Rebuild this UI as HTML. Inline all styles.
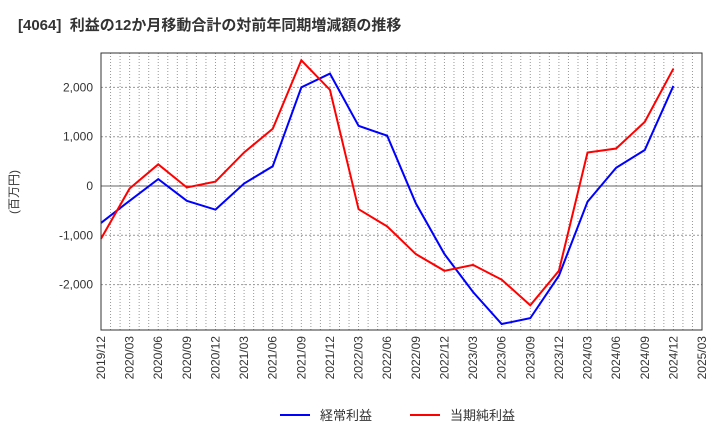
<!DOCTYPE html>
<html><head><meta charset="utf-8"><style>
body{margin:0;background:#fff;font-family:"Liberation Sans","Noto Sans CJK JP",sans-serif;}
</style></head><body>
<svg id="c" width="720" height="440" xmlns="http://www.w3.org/2000/svg">
<text x="18" y="30" xml:space="preserve" font-size="15" font-weight="bold" fill="#333" font-family="Liberation Sans, Noto Sans CJK JP, sans-serif">[4064]  利益の12か月移動合計の対前年同期増減額の推移</text>
<text transform="translate(18,192) rotate(-90)" text-anchor="middle" font-size="12" fill="#333" font-family="Liberation Sans, Noto Sans CJK JP, sans-serif">(百万円)</text>
<g id="grid"></g><g id="series"></g><g id="axes"></g>
<g>
<line x1="280" y1="415" x2="310" y2="415" stroke="#0000ff" stroke-width="2"/>
<text x="320" y="420" font-size="13" fill="#333" font-family="Liberation Sans, Noto Sans CJK JP, sans-serif">経常利益</text>
<line x1="410" y1="415" x2="440" y2="415" stroke="#ff0000" stroke-width="2"/>
<text x="450" y="420" font-size="13" fill="#333" font-family="Liberation Sans, Noto Sans CJK JP, sans-serif">当期純利益</text>
</g>
</svg>
<script>
const categories=["2019/12","2020/03","2020/06","2020/09","2020/12","2021/03","2021/06","2021/09","2021/12","2022/03","2022/06","2022/09","2022/12","2023/03","2023/06","2023/09","2023/12","2024/03","2024/06","2024/09","2024/12","2025/03"];
const ordinaryProfit=[-750,-300,140,-300,-480,50,400,2000,2280,1220,1020,-350,-1380,-2150,-2800,-2680,-1820,-320,370,730,2030];
const netProfit=[-1070,-50,440,-30,90,680,1160,2550,1950,-470,-820,-1380,-1720,-1600,-1900,-2420,-1720,680,760,1300,2380];
const yTicks=[-2000,-1000,0,1000,2000];
const NS="http://www.w3.org/2000/svg";
const L=101,R=702,T=53,B=330;
const x=i=>L+(R-L)*i/(categories.length-1);
const y=v=>186-v*0.0493;
function mk(tag,a,parent){const e=document.createElementNS(NS,tag);for(const k in a)e.setAttribute(k,a[k]);parent.appendChild(e);return e;}
const g=document.getElementById('grid'),s=document.getElementById('series'),ax=document.getElementById('axes');
for(let m=1;m<(categories.length-1)*3;m++){const xx=L+(R-L)*m/((categories.length-1)*3);
const l=mk('line',{x1:xx,x2:xx,y1:T,y2:B,stroke:'#999','stroke-dasharray':'1,2','stroke-width':1},g);

}
yTicks.forEach(v=>{const l=mk('line',{x1:L,x2:R,y1:y(v),y2:y(v),stroke:v===0?'#666':'#999','stroke-dasharray':v===0?'':'2,2','stroke-width':1},g);


const t=mk('text',{x:L-8,y:y(v)+4,'text-anchor':'end','font-size':12,fill:'#333'},ax);t.textContent=v.toLocaleString('en-US');

});
const fr=mk('rect',{x:L,y:T,width:R-L,height:B-T,fill:'none',stroke:'#333','stroke-width':1},ax);


categories.forEach((c,i)=>{const t=mk('text',{transform:`translate(${x(i)+4},${B+6}) rotate(-90)`,'text-anchor':'end','font-size':12,fill:'#333'},ax);t.textContent=c;

});
[[ordinaryProfit,'#0000ff','ordinary-profit-line'],[netProfit,'#ff0000','net-profit-line']].forEach(([d,col,n])=>{
const p=mk('polyline',{points:d.map((v,i)=>x(i)+','+y(v)).join(' '),fill:'none',stroke:col,'stroke-width':2},s);

});
</script>
</body></html>
